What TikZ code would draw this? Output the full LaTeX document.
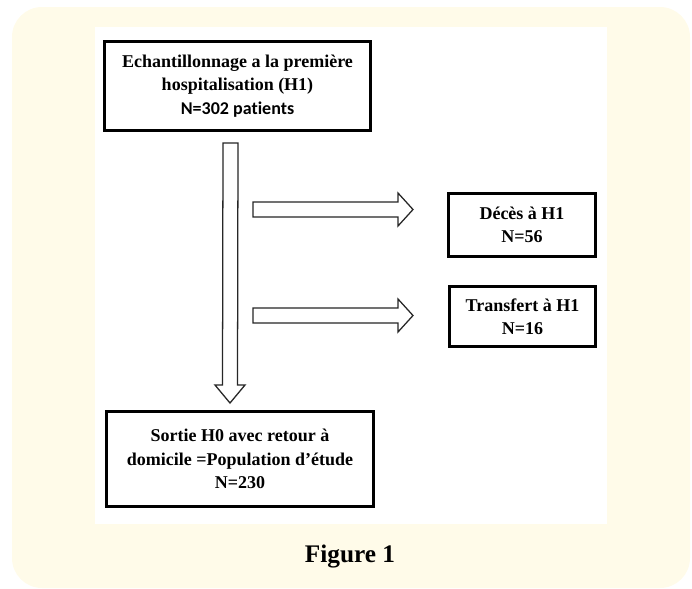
\documentclass[tikz,border=0pt]{standalone}
\usepackage{fontspec}
\setmainfont{Liberation Serif}
\newfontfamily\calib[Ligatures=NoCommon]{Carlito}
\usetikzlibrary{calc}
\definecolor{fondjaune}{RGB}{255,251,233}
\tikzset{
  boite/.style={draw, line width=2.1pt, align=center, inner sep=2pt,
    font=\bfseries\fontsize{12.8}{16.6}\selectfont},
  fleche/.style={draw=black!85, line width=0.9pt, fill=white, line join=miter}
}
% fleche creuse vers la droite
\newcommand{\flechedroite}[2]{%
  \draw[fleche] ($(#1)+(0,-7.5)$) -- ($(#2)+(-15,-7.5)$) -- ($(#2)+(-15,-16.5)$)
    -- (#2) -- ($(#2)+(-15,16.5)$) -- ($(#2)+(-15,7.5)$) -- ($(#1)+(0,7.5)$) -- cycle;}
\begin{document}
\begin{tikzpicture}[x=0.025cm,y=-0.025cm]
            \useasboundingbox (0,0) rectangle (692,588);
            % Fond
            \fill[fondjaune, rounded corners=0.75cm] (12,7) rectangle (690,588);
            \fill[white] (95,27) rectangle (607,524);
            % Boites
            \node[boite, minimum width=6.65cm, minimum height=2.225cm] (ech) at (237.5,86)
              {Echantillonnage a la premi\`ere\\hospitalisation (H1)\\{\calib N=302 patients}};
            \node[boite, minimum width=3.675cm, minimum height=1.575cm] (deces) at (522,225)
              {D\'ec\`es \`a H1\\N=56};
            \node[boite, minimum width=3.65cm, minimum height=1.5cm] (transf) at (522.5,316.5)
              {Transfert \`a H1\\N=16};
            \node[boite, minimum width=6.675cm, minimum height=2.375cm] (sortie) at (240,459)
              {Sortie H0 avec retour \`a\\domicile =Population d\textquoteright\'etude\\N=230};
            % Fleches
            \coordinate (haut) at ($(ech.south)+(-7,11)$);
            \coordinate (bas) at ($(sortie.north)+(-10,-7)$);
            \draw[fleche] ($(haut)+(-7.5,0)$) -- ($(bas)+(-7.5,-18)$) -- ($(bas)+(-15,-18)$)
              -- (bas) -- ($(bas)+(15,-18)$) -- ($(bas)+(7.5,-18)$) -- ($(haut)+(7.5,0)$) -- cycle;
            \coordinate (d1) at (253,209.5);
            \coordinate (d2) at ($(deces.west)+(-34,-15.5)$);
            \flechedroite{d1}{d2}
            \coordinate (t1) at (253,315.5);
            \coordinate (t2) at ($(transf.west)+(-35,-1)$);
            \flechedroite{t1}{t2}
            % Titre
            \node[font=\bfseries\fontsize{18}{21}\selectfont] (titre) at (350,557) {Figure 1};
\end{tikzpicture}
\end{document}
